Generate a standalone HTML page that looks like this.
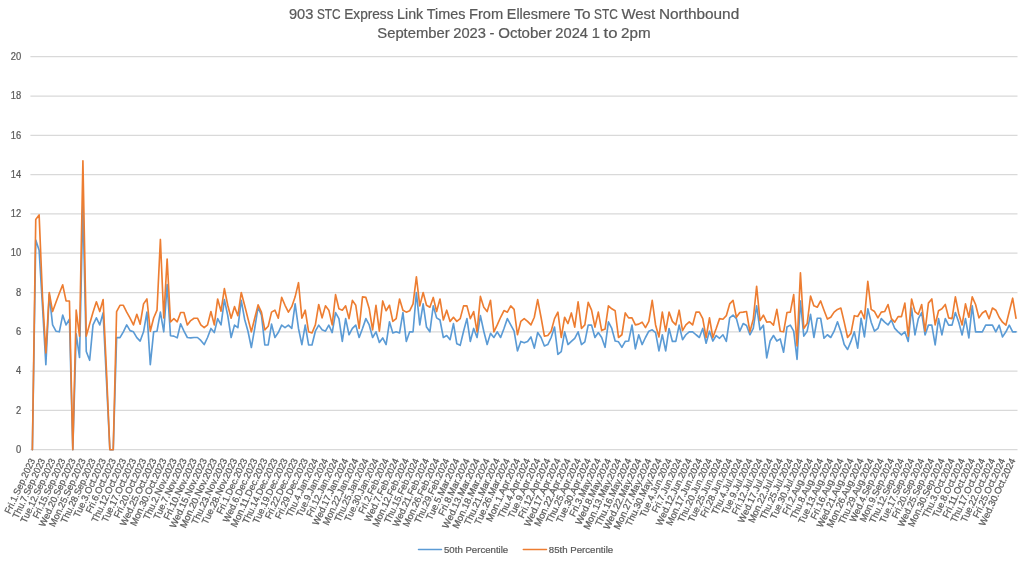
<!DOCTYPE html>
<html lang="en"><head><meta charset="utf-8"><title>903 STC Express Link Times</title>
<style>html,body{margin:0;padding:0;background:#fff;}body{width:1024px;height:561px;overflow:hidden;}svg{display:block;}text{font-family:"Liberation Sans",sans-serif;fill:#595959;stroke:#595959;stroke-width:0.22px;}</style></head><body>
<svg width="1024" height="561" viewBox="0 0 1024 561">
<rect width="1024" height="561" fill="#fff"/>
<g stroke="#d9d9d9" stroke-width="1.25" fill="none">
<line x1="30.4" y1="449.70" x2="1017.5" y2="449.70"/>
<line x1="30.4" y1="410.40" x2="1017.5" y2="410.40"/>
<line x1="30.4" y1="371.10" x2="1017.5" y2="371.10"/>
<line x1="30.4" y1="331.80" x2="1017.5" y2="331.80"/>
<line x1="30.4" y1="292.50" x2="1017.5" y2="292.50"/>
<line x1="30.4" y1="253.20" x2="1017.5" y2="253.20"/>
<line x1="30.4" y1="213.90" x2="1017.5" y2="213.90"/>
<line x1="30.4" y1="174.60" x2="1017.5" y2="174.60"/>
<line x1="30.4" y1="135.30" x2="1017.5" y2="135.30"/>
<line x1="30.4" y1="96.00" x2="1017.5" y2="96.00"/>
<line x1="30.4" y1="56.70" x2="1017.5" y2="56.70"/>
</g>
<g font-size="10" text-anchor="end">
<text x="21.2" y="452.95" textLength="5.22" lengthAdjust="spacingAndGlyphs">0</text>
<text x="21.2" y="413.65" textLength="5.22" lengthAdjust="spacingAndGlyphs">2</text>
<text x="21.2" y="374.35" textLength="5.22" lengthAdjust="spacingAndGlyphs">4</text>
<text x="21.2" y="335.05" textLength="5.22" lengthAdjust="spacingAndGlyphs">6</text>
<text x="21.2" y="295.75" textLength="5.22" lengthAdjust="spacingAndGlyphs">8</text>
<text x="21.2" y="256.45" textLength="10.44" lengthAdjust="spacingAndGlyphs">10</text>
<text x="21.2" y="217.15" textLength="10.44" lengthAdjust="spacingAndGlyphs">12</text>
<text x="21.2" y="177.85" textLength="10.44" lengthAdjust="spacingAndGlyphs">14</text>
<text x="21.2" y="138.55" textLength="10.44" lengthAdjust="spacingAndGlyphs">16</text>
<text x="21.2" y="99.25" textLength="10.44" lengthAdjust="spacingAndGlyphs">18</text>
<text x="21.2" y="59.95" textLength="10.44" lengthAdjust="spacingAndGlyphs">20</text>
</g>
<g font-size="14.1">
<text x="288.90" y="18.60" textLength="24.36" lengthAdjust="spacingAndGlyphs">903</text>
<text x="316.89" y="18.60" textLength="23.71" lengthAdjust="spacingAndGlyphs">STC</text>
<text x="344.22" y="18.60" textLength="49.28" lengthAdjust="spacingAndGlyphs">Express</text>
<text x="397.12" y="18.60" textLength="26.12" lengthAdjust="spacingAndGlyphs">Link</text>
<text x="426.86" y="18.60" textLength="38.53" lengthAdjust="spacingAndGlyphs">Times</text>
<text x="469.01" y="18.60" textLength="34.20" lengthAdjust="spacingAndGlyphs">From</text>
<text x="506.83" y="18.60" textLength="63.75" lengthAdjust="spacingAndGlyphs">Ellesmere</text>
<text x="574.21" y="18.60" textLength="16.26" lengthAdjust="spacingAndGlyphs">To</text>
<text x="594.09" y="18.60" textLength="23.71" lengthAdjust="spacingAndGlyphs">STC</text>
<text x="621.42" y="18.60" textLength="33.86" lengthAdjust="spacingAndGlyphs">West</text>
<text x="658.91" y="18.60" textLength="80.29" lengthAdjust="spacingAndGlyphs">Northbound</text>
<text x="377.30" y="38.30" textLength="72.33" lengthAdjust="spacingAndGlyphs">September</text>
<text x="453.28" y="38.30" textLength="32.69" lengthAdjust="spacingAndGlyphs">2023</text>
<text x="489.62" y="38.30" textLength="4.94" lengthAdjust="spacingAndGlyphs">-</text>
<text x="498.20" y="38.30" textLength="53.52" lengthAdjust="spacingAndGlyphs">October</text>
<text x="555.36" y="38.30" textLength="32.69" lengthAdjust="spacingAndGlyphs">2024</text>
<text x="591.70" y="38.30" textLength="8.17" lengthAdjust="spacingAndGlyphs">1</text>
<text x="603.52" y="38.30" textLength="13.91" lengthAdjust="spacingAndGlyphs">to</text>
<text x="621.07" y="38.30" textLength="29.53" lengthAdjust="spacingAndGlyphs">2pm</text>
</g>
<g fill="none" stroke-width="1.65" stroke-linejoin="round" stroke-linecap="round">
<path stroke="#5b9bd5" d="M32.38 449.70 L35.75 240.03 L39.12 250.25 L42.49 306.25 L45.86 364.62 L49.23 294.47 L52.60 324.92 L55.96 331.21 L59.33 331.80 L62.70 315.10 L66.07 324.92 L69.44 319.22 L72.81 449.70 L76.18 333.76 L79.54 357.54 L82.91 204.08 L86.28 351.45 L89.65 360.29 L93.02 324.92 L96.39 317.85 L99.76 324.92 L103.12 312.94 L106.49 380.93 L109.86 449.70 L113.23 449.70 L116.60 337.69 L119.97 337.69 L123.34 331.80 L126.71 324.92 L130.07 330.62 L133.44 331.80 L136.81 337.69 L140.18 341.04 L143.55 331.80 L146.92 312.15 L150.29 364.62 L153.65 331.80 L157.02 331.21 L160.39 312.15 L163.76 331.80 L167.13 284.64 L170.50 335.73 L173.87 336.12 L177.23 337.89 L180.60 323.74 L183.97 331.21 L187.34 337.50 L190.71 337.89 L194.08 337.50 L197.45 337.50 L200.81 340.45 L204.18 344.57 L207.55 337.50 L210.92 328.46 L214.29 332.59 L217.66 318.63 L221.03 324.92 L224.39 299.57 L227.76 315.69 L231.13 337.50 L234.50 325.12 L237.87 327.67 L241.24 300.36 L244.61 319.22 L247.97 331.21 L251.34 347.52 L254.71 328.46 L258.08 307.24 L261.45 315.10 L264.82 344.97 L268.19 344.97 L271.55 324.14 L274.92 337.50 L278.29 332.59 L281.66 325.12 L285.03 327.67 L288.40 325.12 L291.77 328.46 L295.14 303.90 L298.50 328.46 L301.87 344.57 L305.24 325.12 L308.61 344.97 L311.98 344.97 L315.35 331.21 L318.72 325.12 L322.08 329.84 L325.45 331.21 L328.82 325.12 L332.19 332.59 L335.56 312.54 L338.93 318.63 L342.30 341.43 L345.66 318.63 L349.03 334.75 L352.40 328.46 L355.77 325.12 L359.14 337.50 L362.51 328.46 L365.88 318.63 L369.24 324.92 L372.61 337.50 L375.98 331.80 L379.35 342.41 L382.72 337.89 L386.09 344.57 L389.46 321.78 L392.82 332.98 L396.19 331.80 L399.56 332.98 L402.93 312.54 L406.30 341.43 L409.67 331.80 L413.04 331.80 L416.40 292.50 L419.77 324.92 L423.14 303.90 L426.51 327.08 L429.88 331.80 L433.25 305.86 L436.62 317.85 L439.98 320.01 L443.35 337.50 L446.72 335.53 L450.09 339.66 L453.46 323.55 L456.83 343.79 L460.20 345.36 L463.57 331.21 L466.93 318.63 L470.30 341.43 L473.67 328.46 L477.04 337.50 L480.41 315.69 L483.78 331.21 L487.15 344.57 L490.51 333.37 L493.88 337.50 L497.25 331.80 L500.62 337.50 L503.99 328.46 L507.36 318.63 L510.73 324.92 L514.09 331.21 L517.46 350.86 L520.83 341.43 L524.20 342.80 L527.57 341.43 L530.94 336.91 L534.31 348.11 L537.67 332.59 L541.04 337.50 L544.41 345.95 L547.78 344.57 L551.15 337.50 L554.52 327.08 L557.89 354.40 L561.25 351.65 L564.62 331.80 L567.99 344.57 L571.36 341.43 L574.73 338.28 L578.10 331.80 L581.47 344.57 L584.83 341.82 L588.20 325.12 L591.57 325.12 L594.94 337.50 L598.31 332.59 L601.68 337.50 L605.05 347.32 L608.42 321.78 L611.78 328.46 L615.15 341.04 L618.52 341.82 L621.89 347.32 L625.26 341.43 L628.63 341.04 L632.00 325.12 L635.36 348.90 L638.73 334.75 L642.10 344.57 L645.47 337.50 L648.84 331.21 L652.21 329.84 L655.58 332.59 L658.94 350.86 L662.31 334.75 L665.68 350.86 L669.05 328.46 L672.42 341.43 L675.79 341.43 L679.16 325.12 L682.52 339.66 L685.89 334.75 L689.26 331.80 L692.63 331.80 L696.00 334.75 L699.37 337.50 L702.74 328.46 L706.10 343.20 L709.47 331.21 L712.84 341.04 L716.21 335.53 L719.58 338.28 L722.95 334.75 L726.32 341.43 L729.68 317.85 L733.05 315.10 L736.42 318.63 L739.79 331.21 L743.16 323.55 L746.53 325.51 L749.90 334.75 L753.26 328.46 L756.63 305.86 L760.00 329.84 L763.37 325.12 L766.74 357.93 L770.11 341.04 L773.48 335.53 L776.85 341.04 L780.21 338.87 L783.58 352.24 L786.95 327.08 L790.32 325.12 L793.69 331.21 L797.06 359.31 L800.43 300.95 L803.79 336.12 L807.16 331.21 L810.53 314.31 L813.90 337.50 L817.27 318.24 L820.64 318.24 L824.01 338.28 L827.37 334.75 L830.74 337.50 L834.11 331.21 L837.48 321.78 L840.85 331.80 L844.22 344.57 L847.59 349.49 L850.95 341.43 L854.32 331.80 L857.69 348.11 L861.06 318.24 L864.43 336.91 L867.80 308.81 L871.17 322.17 L874.53 331.21 L877.90 328.46 L881.27 318.63 L884.64 322.17 L888.01 324.92 L891.38 320.01 L894.75 328.46 L898.11 331.80 L901.48 334.94 L904.85 331.80 L908.22 341.43 L911.59 308.02 L914.96 334.94 L918.33 318.63 L921.69 312.54 L925.06 334.94 L928.43 325.12 L931.80 325.12 L935.17 344.97 L938.54 318.63 L941.91 334.94 L945.28 318.63 L948.64 325.12 L952.01 325.12 L955.38 312.54 L958.75 322.17 L962.12 334.94 L965.49 318.63 L968.86 337.89 L972.22 305.86 L975.59 331.80 L978.96 331.80 L982.33 331.80 L985.70 325.12 L989.07 325.12 L992.44 325.12 L995.80 331.80 L999.17 325.12 L1002.54 336.91 L1005.91 331.80 L1009.28 325.12 L1012.65 331.80 L1016.02 331.80"/>
<path stroke="#ed7d31" d="M32.38 449.70 L35.75 219.60 L39.12 214.88 L42.49 296.43 L45.86 353.02 L49.23 292.50 L52.60 311.56 L55.96 302.32 L59.33 293.29 L62.70 284.84 L66.07 300.95 L69.44 300.95 L72.81 449.70 L76.18 310.19 L79.54 336.12 L82.91 160.85 L86.28 336.12 L89.65 323.94 L93.02 312.15 L96.39 301.74 L99.76 311.56 L103.12 299.57 L106.49 371.10 L109.86 449.70 L113.23 449.70 L116.60 311.56 L119.97 305.27 L123.34 305.27 L126.71 312.15 L130.07 318.04 L133.44 324.92 L136.81 314.31 L140.18 324.14 L143.55 303.90 L146.92 298.98 L150.29 331.21 L153.65 318.04 L157.02 310.19 L160.39 239.45 L163.76 318.04 L167.13 259.10 L170.50 321.98 L173.87 318.63 L177.23 321.78 L180.60 312.54 L183.97 312.54 L187.34 324.92 L190.71 320.60 L194.08 318.24 L197.45 318.24 L200.81 324.92 L204.18 327.67 L207.55 324.92 L210.92 311.56 L214.29 324.92 L217.66 298.98 L221.03 311.17 L224.39 288.57 L227.76 305.27 L231.13 318.24 L234.50 306.65 L237.87 315.69 L241.24 292.50 L244.61 305.27 L247.97 318.63 L251.34 331.80 L254.71 318.24 L258.08 304.88 L261.45 312.15 L264.82 329.84 L268.19 326.30 L271.55 312.15 L274.92 310.19 L278.29 318.24 L281.66 297.41 L285.03 305.27 L288.40 312.15 L291.77 306.65 L295.14 296.82 L298.50 282.68 L301.87 318.24 L305.24 310.19 L308.61 331.80 L311.98 332.98 L315.35 324.92 L318.72 304.49 L322.08 317.85 L325.45 305.86 L328.82 310.19 L332.19 324.92 L335.56 294.66 L338.93 308.81 L342.30 310.19 L345.66 305.86 L349.03 318.63 L352.40 300.36 L355.77 305.27 L359.14 328.46 L362.51 296.82 L365.88 297.41 L369.24 308.81 L372.61 329.84 L375.98 305.27 L379.35 331.21 L382.72 300.95 L386.09 310.77 L389.46 305.27 L392.82 321.39 L396.19 318.63 L399.56 298.98 L402.93 310.19 L406.30 312.15 L409.67 310.77 L413.04 303.90 L416.40 276.78 L419.77 305.86 L423.14 292.50 L426.51 305.27 L429.88 307.24 L433.25 297.41 L436.62 311.56 L439.98 298.98 L443.35 320.01 L446.72 310.19 L450.09 321.39 L453.46 317.26 L456.83 321.39 L460.20 318.63 L463.57 305.86 L466.93 305.86 L470.30 318.63 L473.67 311.56 L477.04 331.80 L480.41 296.43 L483.78 307.24 L487.15 311.56 L490.51 300.36 L493.88 331.80 L497.25 324.92 L500.62 317.26 L503.99 310.58 L507.36 312.15 L510.73 305.86 L514.09 309.40 L517.46 334.75 L520.83 321.39 L524.20 318.63 L527.57 321.39 L530.94 324.92 L534.31 317.26 L537.67 299.57 L541.04 317.26 L544.41 336.12 L547.78 335.53 L551.15 331.21 L554.52 318.63 L557.89 312.15 L561.25 337.50 L564.62 317.26 L567.99 323.55 L571.36 312.94 L574.73 327.08 L578.10 301.74 L581.47 328.46 L584.83 324.92 L588.20 302.32 L591.57 310.19 L594.94 327.08 L598.31 312.15 L601.68 330.62 L605.05 329.05 L608.42 305.86 L611.78 308.81 L615.15 310.77 L618.52 337.50 L621.89 334.75 L625.26 312.94 L628.63 317.85 L632.00 317.85 L635.36 324.92 L638.73 324.14 L642.10 322.17 L645.47 327.67 L648.84 321.39 L652.21 300.36 L655.58 324.92 L658.94 336.91 L662.31 312.15 L665.68 331.21 L669.05 312.15 L672.42 321.39 L675.79 324.92 L679.16 310.19 L682.52 330.62 L685.89 324.92 L689.26 321.78 L692.63 324.92 L696.00 312.15 L699.37 312.15 L702.74 318.63 L706.10 337.50 L709.47 317.85 L712.84 337.50 L716.21 328.46 L719.58 318.63 L722.95 319.22 L726.32 315.69 L729.68 303.90 L733.05 300.36 L736.42 317.26 L739.79 312.54 L743.16 312.15 L746.53 311.56 L749.90 331.80 L753.26 319.22 L756.63 286.21 L760.00 320.60 L763.37 315.10 L766.74 322.17 L770.11 321.78 L773.48 325.12 L776.85 309.40 L780.21 331.21 L783.58 331.80 L786.95 312.54 L790.32 312.15 L793.69 294.66 L797.06 345.95 L800.43 272.85 L803.79 328.46 L807.16 323.55 L810.53 296.04 L813.90 305.86 L817.27 307.24 L820.64 300.95 L824.01 310.19 L827.37 319.03 L830.74 317.26 L834.11 312.15 L837.48 309.40 L840.85 308.02 L844.22 322.17 L847.59 337.50 L850.95 333.37 L854.32 315.69 L857.69 316.47 L861.06 310.77 L864.43 318.63 L867.80 281.30 L871.17 309.40 L874.53 311.56 L877.90 317.85 L881.27 312.15 L884.64 311.56 L888.01 304.49 L891.38 318.63 L894.75 322.17 L898.11 316.67 L901.48 316.67 L904.85 303.11 L908.22 336.12 L911.59 298.98 L914.96 311.56 L918.33 314.31 L921.69 304.49 L925.06 331.21 L928.43 303.11 L931.80 298.98 L935.17 324.92 L938.54 310.77 L941.91 308.81 L945.28 304.49 L948.64 317.85 L952.01 318.63 L955.38 296.82 L958.75 313.72 L962.12 324.92 L965.49 303.90 L968.86 317.26 L972.22 296.82 L975.59 304.49 L978.96 317.85 L982.33 312.94 L985.70 310.77 L989.07 318.63 L992.44 308.02 L995.80 310.19 L999.17 317.26 L1002.54 322.17 L1005.91 325.12 L1009.28 311.56 L1012.65 298.20 L1016.02 318.24"/>
</g>
<g font-size="9.5" text-anchor="end">
<text transform="translate(35.38 460.30) rotate(-65)" textLength="59.86" lengthAdjust="spacingAndGlyphs">Fri.1.Sep.2023</text>
<text transform="translate(45.49 460.30) rotate(-65)" textLength="65.01" lengthAdjust="spacingAndGlyphs">Thu.7.Sep.2023</text>
<text transform="translate(55.60 460.30) rotate(-65)" textLength="69.95" lengthAdjust="spacingAndGlyphs">Tue.12.Sep.2023</text>
<text transform="translate(65.70 460.30) rotate(-65)" textLength="65.08" lengthAdjust="spacingAndGlyphs">Fri.15.Sep.2023</text>
<text transform="translate(75.81 460.30) rotate(-65)" textLength="74.09" lengthAdjust="spacingAndGlyphs">Wed.20.Sep.2023</text>
<text transform="translate(85.91 460.30) rotate(-65)" textLength="74.04" lengthAdjust="spacingAndGlyphs">Mon.25.Sep.2023</text>
<text transform="translate(96.02 460.30) rotate(-65)" textLength="70.23" lengthAdjust="spacingAndGlyphs">Thu.28.Sep.2023</text>
<text transform="translate(106.12 460.30) rotate(-65)" textLength="64.08" lengthAdjust="spacingAndGlyphs">Tue.3.Oct.2023</text>
<text transform="translate(116.23 460.30) rotate(-65)" textLength="59.21" lengthAdjust="spacingAndGlyphs">Fri.6.Oct.2023</text>
<text transform="translate(126.34 460.30) rotate(-65)" textLength="69.59" lengthAdjust="spacingAndGlyphs">Thu.12.Oct.2023</text>
<text transform="translate(136.44 460.30) rotate(-65)" textLength="69.30" lengthAdjust="spacingAndGlyphs">Tue.17.Oct.2023</text>
<text transform="translate(146.55 460.30) rotate(-65)" textLength="64.44" lengthAdjust="spacingAndGlyphs">Fri.20.Oct.2023</text>
<text transform="translate(156.65 460.30) rotate(-65)" textLength="73.45" lengthAdjust="spacingAndGlyphs">Wed.25.Oct.2023</text>
<text transform="translate(166.76 460.30) rotate(-65)" textLength="73.40" lengthAdjust="spacingAndGlyphs">Mon.30.Oct.2023</text>
<text transform="translate(176.87 460.30) rotate(-65)" textLength="66.48" lengthAdjust="spacingAndGlyphs">Thu.2.Nov.2023</text>
<text transform="translate(186.97 460.30) rotate(-65)" textLength="66.19" lengthAdjust="spacingAndGlyphs">Tue.7.Nov.2023</text>
<text transform="translate(197.08 460.30) rotate(-65)" textLength="66.54" lengthAdjust="spacingAndGlyphs">Fri.10.Nov.2023</text>
<text transform="translate(207.18 460.30) rotate(-65)" textLength="75.56" lengthAdjust="spacingAndGlyphs">Wed.15.Nov.2023</text>
<text transform="translate(217.29 460.30) rotate(-65)" textLength="75.50" lengthAdjust="spacingAndGlyphs">Mon.20.Nov.2023</text>
<text transform="translate(227.39 460.30) rotate(-65)" textLength="71.70" lengthAdjust="spacingAndGlyphs">Thu.23.Nov.2023</text>
<text transform="translate(237.50 460.30) rotate(-65)" textLength="71.41" lengthAdjust="spacingAndGlyphs">Tue.28.Nov.2023</text>
<text transform="translate(247.61 460.30) rotate(-65)" textLength="60.41" lengthAdjust="spacingAndGlyphs">Fri.1.Dec.2023</text>
<text transform="translate(257.71 460.30) rotate(-65)" textLength="69.42" lengthAdjust="spacingAndGlyphs">Wed.6.Dec.2023</text>
<text transform="translate(267.82 460.30) rotate(-65)" textLength="74.59" lengthAdjust="spacingAndGlyphs">Mon.11.Dec.2023</text>
<text transform="translate(277.92 460.30) rotate(-65)" textLength="70.78" lengthAdjust="spacingAndGlyphs">Thu.14.Dec.2023</text>
<text transform="translate(288.03 460.30) rotate(-65)" textLength="70.50" lengthAdjust="spacingAndGlyphs">Tue.19.Dec.2023</text>
<text transform="translate(298.14 460.30) rotate(-65)" textLength="65.63" lengthAdjust="spacingAndGlyphs">Fri.22.Dec.2023</text>
<text transform="translate(308.24 460.30) rotate(-65)" textLength="65.63" lengthAdjust="spacingAndGlyphs">Fri.29.Dec.2023</text>
<text transform="translate(318.35 460.30) rotate(-65)" textLength="63.37" lengthAdjust="spacingAndGlyphs">Thu.4.Jan.2024</text>
<text transform="translate(328.45 460.30) rotate(-65)" textLength="63.09" lengthAdjust="spacingAndGlyphs">Tue.9.Jan.2024</text>
<text transform="translate(338.56 460.30) rotate(-65)" textLength="63.44" lengthAdjust="spacingAndGlyphs">Fri.12.Jan.2024</text>
<text transform="translate(348.66 460.30) rotate(-65)" textLength="72.45" lengthAdjust="spacingAndGlyphs">Wed.17.Jan.2024</text>
<text transform="translate(358.77 460.30) rotate(-65)" textLength="72.40" lengthAdjust="spacingAndGlyphs">Mon.22.Jan.2024</text>
<text transform="translate(368.88 460.30) rotate(-65)" textLength="68.59" lengthAdjust="spacingAndGlyphs">Thu.25.Jan.2024</text>
<text transform="translate(378.98 460.30) rotate(-65)" textLength="68.31" lengthAdjust="spacingAndGlyphs">Tue.30.Jan.2024</text>
<text transform="translate(389.09 460.30) rotate(-65)" textLength="59.86" lengthAdjust="spacingAndGlyphs">Fri.2.Feb.2024</text>
<text transform="translate(399.19 460.30) rotate(-65)" textLength="68.87" lengthAdjust="spacingAndGlyphs">Wed.7.Feb.2024</text>
<text transform="translate(409.30 460.30) rotate(-65)" textLength="74.04" lengthAdjust="spacingAndGlyphs">Mon.12.Feb.2024</text>
<text transform="translate(419.40 460.30) rotate(-65)" textLength="70.23" lengthAdjust="spacingAndGlyphs">Thu.15.Feb.2024</text>
<text transform="translate(429.51 460.30) rotate(-65)" textLength="74.09" lengthAdjust="spacingAndGlyphs">Wed.21.Feb.2024</text>
<text transform="translate(439.62 460.30) rotate(-65)" textLength="74.04" lengthAdjust="spacingAndGlyphs">Mon.26.Feb.2024</text>
<text transform="translate(449.72 460.30) rotate(-65)" textLength="70.23" lengthAdjust="spacingAndGlyphs">Thu.29.Feb.2024</text>
<text transform="translate(459.83 460.30) rotate(-65)" textLength="66.79" lengthAdjust="spacingAndGlyphs">Tue.5.Mar.2024</text>
<text transform="translate(469.93 460.30) rotate(-65)" textLength="61.92" lengthAdjust="spacingAndGlyphs">Fri.8.Mar.2024</text>
<text transform="translate(480.04 460.30) rotate(-65)" textLength="76.15" lengthAdjust="spacingAndGlyphs">Wed.13.Mar.2024</text>
<text transform="translate(490.15 460.30) rotate(-65)" textLength="76.10" lengthAdjust="spacingAndGlyphs">Mon.18.Mar.2024</text>
<text transform="translate(500.25 460.30) rotate(-65)" textLength="72.30" lengthAdjust="spacingAndGlyphs">Thu.21.Mar.2024</text>
<text transform="translate(510.36 460.30) rotate(-65)" textLength="72.01" lengthAdjust="spacingAndGlyphs">Tue.26.Mar.2024</text>
<text transform="translate(520.46 460.30) rotate(-65)" textLength="68.51" lengthAdjust="spacingAndGlyphs">Mon.1.Apr.2024</text>
<text transform="translate(530.57 460.30) rotate(-65)" textLength="64.71" lengthAdjust="spacingAndGlyphs">Thu.4.Apr.2024</text>
<text transform="translate(540.67 460.30) rotate(-65)" textLength="64.42" lengthAdjust="spacingAndGlyphs">Tue.9.Apr.2024</text>
<text transform="translate(550.78 460.30) rotate(-65)" textLength="64.77" lengthAdjust="spacingAndGlyphs">Fri.12.Apr.2024</text>
<text transform="translate(560.89 460.30) rotate(-65)" textLength="73.78" lengthAdjust="spacingAndGlyphs">Wed.17.Apr.2024</text>
<text transform="translate(570.99 460.30) rotate(-65)" textLength="73.73" lengthAdjust="spacingAndGlyphs">Mon.22.Apr.2024</text>
<text transform="translate(581.10 460.30) rotate(-65)" textLength="69.93" lengthAdjust="spacingAndGlyphs">Thu.25.Apr.2024</text>
<text transform="translate(591.20 460.30) rotate(-65)" textLength="69.64" lengthAdjust="spacingAndGlyphs">Tue.30.Apr.2024</text>
<text transform="translate(601.31 460.30) rotate(-65)" textLength="62.99" lengthAdjust="spacingAndGlyphs">Fri.3.May.2024</text>
<text transform="translate(611.42 460.30) rotate(-65)" textLength="72.00" lengthAdjust="spacingAndGlyphs">Wed.8.May.2024</text>
<text transform="translate(621.52 460.30) rotate(-65)" textLength="77.17" lengthAdjust="spacingAndGlyphs">Mon.13.May.2024</text>
<text transform="translate(631.63 460.30) rotate(-65)" textLength="73.37" lengthAdjust="spacingAndGlyphs">Thu.16.May.2024</text>
<text transform="translate(641.73 460.30) rotate(-65)" textLength="77.22" lengthAdjust="spacingAndGlyphs">Wed.22.May.2024</text>
<text transform="translate(651.84 460.30) rotate(-65)" textLength="77.17" lengthAdjust="spacingAndGlyphs">Mon.27.May.2024</text>
<text transform="translate(661.94 460.30) rotate(-65)" textLength="73.37" lengthAdjust="spacingAndGlyphs">Thu.30.May.2024</text>
<text transform="translate(672.05 460.30) rotate(-65)" textLength="63.57" lengthAdjust="spacingAndGlyphs">Tue.4.Jun.2024</text>
<text transform="translate(682.16 460.30) rotate(-65)" textLength="58.70" lengthAdjust="spacingAndGlyphs">Fri.7.Jun.2024</text>
<text transform="translate(692.26 460.30) rotate(-65)" textLength="72.93" lengthAdjust="spacingAndGlyphs">Wed.12.Jun.2024</text>
<text transform="translate(702.37 460.30) rotate(-65)" textLength="72.88" lengthAdjust="spacingAndGlyphs">Mon.17.Jun.2024</text>
<text transform="translate(712.47 460.30) rotate(-65)" textLength="69.07" lengthAdjust="spacingAndGlyphs">Thu.20.Jun.2024</text>
<text transform="translate(722.58 460.30) rotate(-65)" textLength="68.79" lengthAdjust="spacingAndGlyphs">Tue.25.Jun.2024</text>
<text transform="translate(732.68 460.30) rotate(-65)" textLength="63.92" lengthAdjust="spacingAndGlyphs">Fri.28.Jun.2024</text>
<text transform="translate(742.79 460.30) rotate(-65)" textLength="60.80" lengthAdjust="spacingAndGlyphs">Thu.4.Jul.2024</text>
<text transform="translate(752.90 460.30) rotate(-65)" textLength="60.52" lengthAdjust="spacingAndGlyphs">Tue.9.Jul.2024</text>
<text transform="translate(763.00 460.30) rotate(-65)" textLength="60.87" lengthAdjust="spacingAndGlyphs">Fri.12.Jul.2024</text>
<text transform="translate(773.11 460.30) rotate(-65)" textLength="69.88" lengthAdjust="spacingAndGlyphs">Wed.17.Jul.2024</text>
<text transform="translate(783.21 460.30) rotate(-65)" textLength="69.83" lengthAdjust="spacingAndGlyphs">Mon.22.Jul.2024</text>
<text transform="translate(793.32 460.30) rotate(-65)" textLength="66.02" lengthAdjust="spacingAndGlyphs">Thu.25.Jul.2024</text>
<text transform="translate(803.43 460.30) rotate(-65)" textLength="65.74" lengthAdjust="spacingAndGlyphs">Tue.30.Jul.2024</text>
<text transform="translate(813.53 460.30) rotate(-65)" textLength="60.81" lengthAdjust="spacingAndGlyphs">Fri.2.Aug.2024</text>
<text transform="translate(823.64 460.30) rotate(-65)" textLength="65.96" lengthAdjust="spacingAndGlyphs">Thu.8.Aug.2024</text>
<text transform="translate(833.74 460.30) rotate(-65)" textLength="70.90" lengthAdjust="spacingAndGlyphs">Tue.13.Aug.2024</text>
<text transform="translate(843.85 460.30) rotate(-65)" textLength="66.03" lengthAdjust="spacingAndGlyphs">Fri.16.Aug.2024</text>
<text transform="translate(853.95 460.30) rotate(-65)" textLength="75.04" lengthAdjust="spacingAndGlyphs">Wed.21.Aug.2024</text>
<text transform="translate(864.06 460.30) rotate(-65)" textLength="74.99" lengthAdjust="spacingAndGlyphs">Mon.26.Aug.2024</text>
<text transform="translate(874.17 460.30) rotate(-65)" textLength="71.18" lengthAdjust="spacingAndGlyphs">Thu.29.Aug.2024</text>
<text transform="translate(884.27 460.30) rotate(-65)" textLength="68.87" lengthAdjust="spacingAndGlyphs">Wed.4.Sep.2024</text>
<text transform="translate(894.38 460.30) rotate(-65)" textLength="68.82" lengthAdjust="spacingAndGlyphs">Mon.9.Sep.2024</text>
<text transform="translate(904.48 460.30) rotate(-65)" textLength="70.23" lengthAdjust="spacingAndGlyphs">Thu.12.Sep.2024</text>
<text transform="translate(914.59 460.30) rotate(-65)" textLength="69.95" lengthAdjust="spacingAndGlyphs">Tue.17.Sep.2024</text>
<text transform="translate(924.69 460.30) rotate(-65)" textLength="65.08" lengthAdjust="spacingAndGlyphs">Fri.20.Sep.2024</text>
<text transform="translate(934.80 460.30) rotate(-65)" textLength="74.09" lengthAdjust="spacingAndGlyphs">Wed.25.Sep.2024</text>
<text transform="translate(944.91 460.30) rotate(-65)" textLength="74.04" lengthAdjust="spacingAndGlyphs">Mon.30.Sep.2024</text>
<text transform="translate(955.01 460.30) rotate(-65)" textLength="64.37" lengthAdjust="spacingAndGlyphs">Thu.3.Oct.2024</text>
<text transform="translate(965.12 460.30) rotate(-65)" textLength="64.08" lengthAdjust="spacingAndGlyphs">Tue.8.Oct.2024</text>
<text transform="translate(975.22 460.30) rotate(-65)" textLength="64.44" lengthAdjust="spacingAndGlyphs">Fri.11.Oct.2024</text>
<text transform="translate(985.33 460.30) rotate(-65)" textLength="69.59" lengthAdjust="spacingAndGlyphs">Thu.17.Oct.2024</text>
<text transform="translate(995.44 460.30) rotate(-65)" textLength="69.30" lengthAdjust="spacingAndGlyphs">Tue.22.Oct.2024</text>
<text transform="translate(1005.54 460.30) rotate(-65)" textLength="64.44" lengthAdjust="spacingAndGlyphs">Fri.25.Oct.2024</text>
<text transform="translate(1015.65 460.30) rotate(-65)" textLength="73.45" lengthAdjust="spacingAndGlyphs">Wed.30.Oct.2024</text>
</g>
<g fill="none" stroke-width="1.5" stroke-linecap="round">
<line x1="418.5" y1="549.6" x2="441.5" y2="549.6" stroke="#5b9bd5"/>
<line x1="523.3" y1="549.6" x2="546.5" y2="549.6" stroke="#ed7d31"/>
</g>
<g font-size="9.5">
<text x="444.0" y="553.0" textLength="64.2" lengthAdjust="spacingAndGlyphs">50th Percentile</text>
<text x="548.8" y="553.0" textLength="64.4" lengthAdjust="spacingAndGlyphs">85th Percentile</text>
</g>
</svg></body></html>
